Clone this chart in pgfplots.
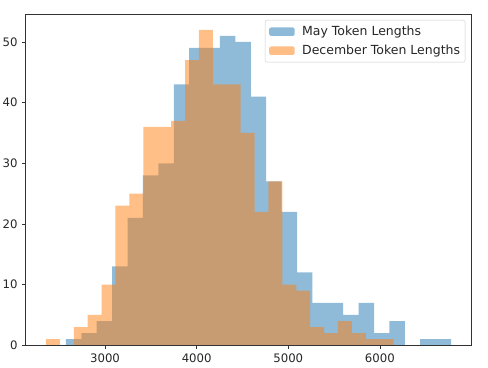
\documentclass[border=0pt]{standalone}
\usepackage{pgfplots}
\pgfplotsset{compat=1.18}
\usepackage{fontspec}
\setmainfont{DejaVu Sans}
\definecolor{mplblue}{RGB}{31,119,180}
\definecolor{mplorange}{RGB}{255,127,14}
\definecolor{legedge}{RGB}{204,204,204}
\begin{document}
\begin{tikzpicture}
\begin{axis}[
  scale only axis,
  width=445.6pt, height=331.3pt,
  xmin=2133.9, xmax=6998.1,
  ymin=0, ymax=54.6,
  axis on top,
  axis line style={line width=0.6pt, black!80},
  tick pos=left,
  tick align=outside,
  major tick length=3.7pt,
  every tick/.style={black!80, line width=0.6pt},
  xtick={3000,4000,5000,6000,7000},
  ytick={0,10,20,30,40,50},
  /pgf/number format/1000 sep={},
  /pgf/number format/assume math mode=true,
  tick label style={font=\fontsize{11.7}{13}\selectfont, text=black!85},
  xticklabel style={yshift=-1pt},
  yticklabel style={xshift=-1pt},
  legend cell align=left,
  legend image code/.code={\fill[#1] (1pt,-4.2pt) rectangle (26.6pt,4.2pt); \path (0pt,0pt) (32pt,0pt);},
  legend style={
    at={(rel axis cs:1,1)}, anchor=north east, xshift=-6pt, yshift=-6pt,
    draw=legedge, rounded corners=2pt, fill=white, fill opacity=0.8, text opacity=1,
    font=\fontsize{12.5}{14}\selectfont, text=black!85, inner xsep=3pt, inner ysep=4pt,
    row sep=4pt,
  },
]
\coordinate (bbsw) at (rel axis cs:0,0);
\coordinate (bbne) at (rel axis cs:1,1);
\addplot[ybar interval, fill=mplblue, fill opacity=0.5, draw=none] coordinates {
(2573.0,1) (2741.2,2) (2909.3,4) (3077.5,13) (3245.6,21) (3413.8,28) (3582.0,30)
(3750.1,43) (3918.3,49) (4086.4,49) (4254.6,51) (4422.8,50) (4590.9,41) (4759.1,27)
(4927.2,22) (5095.4,12) (5263.6,7) (5431.7,7) (5599.9,5) (5768.0,7) (5936.2,2)
(6104.4,4) (6272.5,0) (6440.7,1) (6608.8,1) (6777.0,0)
};
\addlegendentry{May Token Lengths}
\addplot[ybar interval, fill=mplorange, fill opacity=0.5, draw=none] coordinates {
(2355.0,1) (2506.8,0) (2658.6,3) (2810.4,5) (2962.2,10) (3114.0,23) (3265.8,25)
(3417.6,36) (3569.4,36) (3721.2,37) (3873.0,47) (4024.8,52) (4176.6,43) (4328.4,43)
(4480.2,35) (4632.0,22) (4783.8,27) (4935.6,10) (5087.4,9) (5239.2,3) (5391.0,2)
(5542.8,4) (5694.6,2) (5846.4,1) (5998.2,1) (6150.0,0)
};
\addlegendentry{December Token Lengths}
\end{axis}
\pgfresetboundingbox
\path[use as bounding box] ([shift={(-25.7pt,-21.7pt)}]bbsw) rectangle ([shift={(16.7pt,14pt)}]bbne);
\end{tikzpicture}
\end{document}
